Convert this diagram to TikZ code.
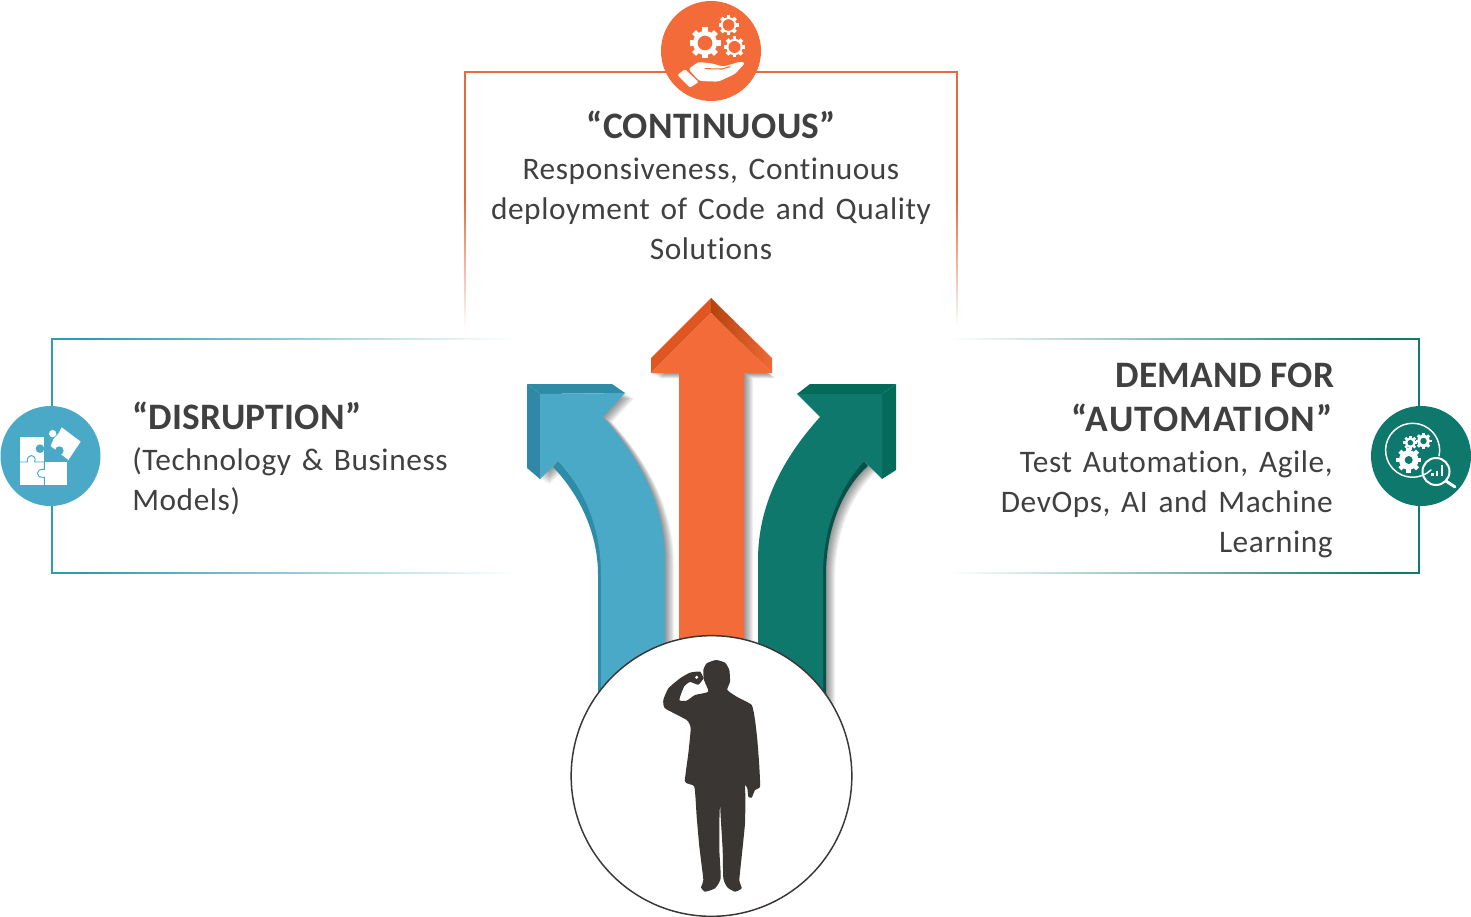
\documentclass[tikz,border=0pt]{standalone}
\usepackage{fontspec}
\setmainfont[Ligatures=NoCommon]{Carlito}
\newfontfamily\bodyfam[Ligatures=NoCommon,WordSpace=1.4,LetterSpace=1.9]{Carlito}
\newfontfamily\headfam[Ligatures=NoCommon,LetterSpace=0.7]{Carlito}
\newfontfamily\headwide[Ligatures=NoCommon,LetterSpace=2.9]{Carlito}
\definecolor{orangeA}{HTML}{F26B38}
\definecolor{orangeB}{HTML}{DE5720}
\definecolor{orangeC}{HTML}{B4440F}
\definecolor{blueA}{HTML}{4BA9C8}
\definecolor{blueB}{HTML}{3187A6}
\definecolor{blueC}{HTML}{2F8CA6}
\definecolor{tealA}{HTML}{0E786C}
\definecolor{tealB}{HTML}{046A5A}
\definecolor{tealC}{HTML}{04524C}
\definecolor{frameO}{HTML}{E8693A}
\definecolor{frameB}{HTML}{2F9DB0}
\definecolor{frameT}{HTML}{0E7A6C}
\definecolor{inkC}{HTML}{3A3634}
\definecolor{textC}{HTML}{404040}
\newcommand{\gearat}[5]{%
  \begin{scope}[shift={(#1,#2)}]
    \fill[white] (0,0) circle[radius={0.78*#3}];
    \foreach \a in {0,45,...,315}{\fill[white,rotate=\a] ({-0.18*#3},{0.6*#3}) rectangle ({0.18*#3},{#3});}
    \fill[#5] (0,0) circle[radius=#4];
  \end{scope}}
\newcommand{\softshadow}[1]{%
  \foreach \s in {1,...,9}{%
    \begin{scope}[shift={(\s,{0.6*\s})}]
      \fill[black,opacity=.055] #1;
    \end{scope}}}
\newcommand{\headline}[1]{{\headfam\fontsize{28}{30}\selectfont\bfseries #1}}
\newcommand{\headlinewide}[1]{{\headwide\fontsize{28}{30}\selectfont\bfseries #1}}
\tikzset{
  blocktext/.style={font=\bodyfam\fontsize{23.5}{30}\selectfont,text=textC,inner sep=0,anchor=north},
  iconcircle/.style={circle,inner sep=0,minimum size=75pt},
}
\begin{document}
\begin{tikzpicture}[x=0.75pt,y=-0.75pt]
\useasboundingbox (0,0) rectangle (1471,917);

% --- frames
\draw[frameO,line width=1.1pt] (465,200)--(465,72)--(957,72)--(957,200);
\shade[top color=frameO,bottom color=white] (464.27,199.5) rectangle (465.73,328);
\shade[top color=frameO,bottom color=white] (956.27,199.5) rectangle (957.73,328);

\draw[frameB,line width=1.1pt] (90,339)--(52,339)--(52,573)--(90,573);
\shade[left color=frameB,right color=white] (89.5,338.27) rectangle (515,339.73);
\shade[left color=frameB,right color=white] (89.5,572.27) rectangle (515,573.73);

\draw[frameT,line width=1.1pt] (1380,339)--(1419,339)--(1419,573)--(1380,573);
\shade[right color=frameT,left color=white] (950,338.27) rectangle (1380.5,339.73);
\shade[right color=frameT,left color=white] (950,572.27) rectangle (1380.5,573.73);

% --- shadows
\softshadow{(540,394)--(625,393)--(603,417) .. controls (640,458) and (665,505) .. (665,560) -- (665,680) -- (601,700) -- (601,575) .. controls (601,525) and (582,486) .. (558,461) -- (540,479) -- cycle}
\softshadow{(875,394)--(797,394)--(820,417) .. controls (783,458) and (758,505) .. (758,560) -- (758,680) -- (826,700) -- (826,575) .. controls (826,525) and (845,486) .. (868,466) -- (875,472) -- cycle}
\softshadow{(711,313)--(766,373)--(744,373)--(744,650)--(679,650)--(679,373)--(651,373)--cycle}

% --- blue arrow
\fill[blueC] (527,384)--(612,384)--(625,393)--(540,394)--cycle;
\fill[blueB] (527,384)--(540,394)--(540,479)--(527,468)--cycle;
\fill[blueC] (553,467) .. controls (577,492) and (598,530) .. (598,575) -- (598,700) -- (604,700) -- (604,575) .. controls (604,525) and (582,486) .. (558,461) -- cycle;
\fill[blueA] (540,394)--(625,393)--(603,417) .. controls (640,458) and (665,505) .. (665,560) -- (665,680) -- (601,700) -- (601,575) .. controls (601,525) and (582,486) .. (558,461) -- (540,479) -- cycle;

% --- teal arrow
\fill[tealB] (896,384)--(810,384)--(797,394)--(882,394)--cycle;
\fill[tealB] (896,384)--(882,394)--(882,479)--(896,470)--cycle;
\fill[tealC] (868,466) .. controls (845,486) and (826,525) .. (826,575) -- (826,700) -- (820,700) -- (820,575) .. controls (820,525) and (841,486) .. (864,461) -- cycle;
\fill[tealA] (882,394)--(797,394)--(820,417) .. controls (783,458) and (758,505) .. (758,560) -- (758,680) -- (823,700) -- (823,575) .. controls (823,525) and (841,486) .. (864,461) -- (882,479) -- cycle;

% --- orange arrow
\fill[orangeB] (711,298)--(651,358)--(651,373)--(711,313)--cycle;
\shade[left color=orangeC,right color=orangeA!90!orangeB] (711,298)--(772,358)--(772,373)--(711,313)--cycle;
\fill[orangeA] (711,313)--(772,373)--(744,373)--(744,650)--(679,650)--(679,373)--(651,373)--cycle;

% --- person circle
\node[circle,draw=inkC,fill=white,line width=1.1pt,inner sep=0,minimum size=210.5pt] (person) at (711.5,776) {};
\begin{scope}[shift={(640,650)},x=0.25pt,y=-0.25pt]
\fill[inkC] plot[smooth cycle,tension=0.3] coordinates {
 (228,30)(255,38)(268,60)(270,95)(262,120)(290,140)(335,165)(345,210)(352,270)(358,350)(360,410)(345,420)(335,443)(325,440)(322,415)(315,405)(316,440)(315,520)(305,620)(298,690)(305,715)(285,725)(262,712)(250,685)(248,600)(242,500)(240,460)(238,520)(238,600)(242,685)(225,715)(195,725)(183,712)(190,690)(178,590)(170,500)(163,410)(135,395)(145,310)(152,235)(140,210)(75,175)(70,150)(85,115)(120,85)(150,68)(180,65)(190,85)(175,104)(150,96)(132,110)(118,150)(140,152)(165,135)(205,125)(192,90)(190,60)(200,40)};
\fill[white] (170,82) circle[radius=5];
\end{scope}

% --- top icon
\node[iconcircle,fill=orangeA] (iconTop) at (711,51) {};
\gearat{705}{43}{15.5}{7.3}{orangeA}
\gearat{728.5}{25}{10}{5.8}{orangeA}
\gearat{734.5}{47}{10.5}{6}{orangeA}
\begin{scope}[shift={(640,0)},x=0.25pt,y=-0.25pt]
\fill[white,rounded corners=1pt] (112,225)--(135,208)--(176,246)--(150,263)--cycle;
\fill[white,rounded corners=2pt] (145,207)--(175,186)--(215,190)--(250,200)--(300,185)--(316,188)--(285,222)--(235,245)--(178,243)--cycle;
\draw[orangeA,line width=0.8pt,line cap=round] (195,206)--(245,207)--(270,200);
\end{scope}

% --- left icon
\node[iconcircle,fill=blueA] (iconLeft) at (50.5,456) {};
\begin{scope}[shift={(0,400)},x=0.25pt,y=-0.25pt]
\fill[white] (60,110) rectangle (133,186);
\fill[white] (60,186) rectangle (200,255);
\fill[white] (185,82)--(242,125)--(205,180)--(152,138)--(160,118)--(176,100)--cycle;
\fill[white] (158,101) circle[radius=11];
\fill[blueA] (120,146) circle[radius=13];
\fill[blueA] (178,152) circle[radius=13];
\fill[blueA] (164,176) circle[radius=10];
\draw[blueA,line width=0.7pt] (60,186)--(82,186) .. controls (78,160) and (112,160) .. (104,186) -- (133,186);
\draw[blueA,line width=0.7pt] (133,186)--(133,208) .. controls (105,205) and (105,235) .. (133,232) -- (133,255);
\end{scope}

% --- right icon
\node[iconcircle,fill=tealA] (iconRight) at (1421,456) {};
\draw[white,line width=1.1pt,line cap=round] (1431,470) arc[start angle=47,end angle=372,radius=27];
\gearat{1410.3}{442.7}{7}{2.8}{tealA}
\gearat{1423.5}{441}{8}{3.2}{tealA}
\gearat{1408.7}{460}{12.5}{4}{tealA}
\draw[white,line width=1.5pt] (1436,471.5) circle[radius=13.5];
\draw[white,line width=2.2pt,line cap=round] (1446,481)--(1455,487);
\fill[white] (1431,473) rectangle (1433.5,475.5);
\fill[white] (1435.5,471) rectangle (1438,475.5);
\fill[white] (1440.5,465) rectangle (1443,475.5);

% --- texts
\node[blocktext,align=center] (textTop) at (711,111) {\headline{“CONTINUOUS”}\\[0.75pt]Responsiveness, Continuous\\deployment of Code and Quality\\Solutions};
\node[blocktext,align=left,anchor=north west] (textLeft) at (132,402) {\headline{“DISRUPTION”}\\[0.5pt](Technology \& Business\\Models)};
\node[blocktext,align=right,anchor=north east] (textRight) at (1333,363) {\headline{DEMAND FOR}\hspace*{-1pt}\\[3pt]\headlinewide{“AUTOMATION”}\hspace*{-1pt}\\[0.25pt]Test Automation, Agile,\\DevOps, AI and Machine\\Learning};
\end{tikzpicture}
\end{document}
